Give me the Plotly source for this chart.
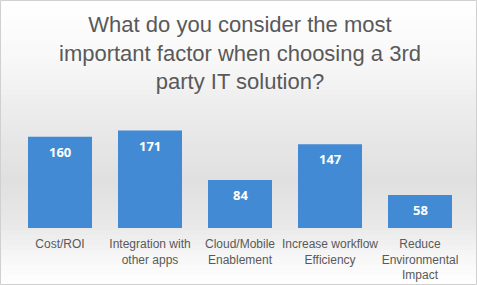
import plotly.graph_objects as go

categories = ["Cost/ROI", "Integration with<br>other apps", "Cloud/Mobile<br>Enablement",
              "Increase workflow<br>Efficiency", "Reduce<br>Environmental<br>Impact"]
values = [160, 171, 84, 147, 58]
title_text = "What do you consider the most<br>important factor when choosing a 3rd<br>party IT solution?"

W, H = 477, 285
ml, mr, mt, mb = 15, 12, 114, 57
pw, ph = W - ml - mr, H - mt - mb

def px_to_paper_x(x):
    return (x - ml) / pw

def px_to_paper_y(y):
    return (H - mb - y) / ph

# background vertical gradient stops (pixel y, grey level)
stops = [(0, 255), (60, 248), (120, 234), (180, 224), (225, 232), (255, 246), (285, 255)]

def grey_at(y):
    for (y0, g0), (y1, g1) in zip(stops[:-1], stops[1:]):
        if y0 <= y <= y1:
            t = (y - y0) / (y1 - y0)
            return g0 + (g1 - g0) * t
    return 255

shapes = []
step = 5
for y in range(0, H, step):
    g = int(round(grey_at(y + step / 2)))
    shapes.append(dict(type="rect", xref="paper", yref="paper", layer="below",
                       x0=px_to_paper_x(0), x1=px_to_paper_x(W),
                       y0=px_to_paper_y(y + step + 0.5), y1=px_to_paper_y(y),
                       line=dict(width=0), fillcolor=f"rgb({g},{g},{g})"))
shapes.append(dict(type="rect", xref="paper", yref="paper", layer="above",
                   x0=px_to_paper_x(0.5), x1=px_to_paper_x(W - 0.5),
                   y0=px_to_paper_y(H - 0.5), y1=px_to_paper_y(0.5),
                   line=dict(width=1, color="#d0d0d0"), fillcolor="rgba(0,0,0,0)"))

fig = go.Figure(go.Bar(
    x=categories, y=values,
    marker=dict(color="#428ad3", line=dict(width=0)),
    hoverinfo="x+y",
))

annotations = [dict(x=c, y=v, xref="x", yref="y", text=f"<b>{v}</b>", showarrow=False,
                    yanchor="middle", yshift=-15,
                    font=dict(color="white", size=13, family="Open Sans"))
               for c, v in zip(categories, values)]
annotations.append(dict(text=title_text, x=0.5, xref="paper", y=px_to_paper_y(10), yref="paper",
                        xanchor="center", yanchor="top", showarrow=False, align="center",
                        font=dict(size=22, color="#595959", family="Liberation Sans")))

fig.update_layout(
    width=W, height=H,
    margin=dict(l=ml, r=mr, t=mt, b=mb, pad=0, autoexpand=False),
    paper_bgcolor="white", plot_bgcolor="rgba(0,0,0,0)",
    bargap=26 / 90,
    showlegend=False,
    shapes=shapes,
    annotations=annotations,
    font=dict(family="Liberation Sans", color="#595959"),
    xaxis=dict(showgrid=False, showline=False, zeroline=False, ticks="",
               ticklabelstandoff=7, automargin=False,
               tickfont=dict(size=12, color="#595959")),
    yaxis=dict(range=[0, 200], visible=False, automargin=False),
)

fig.write_html("out.html")
